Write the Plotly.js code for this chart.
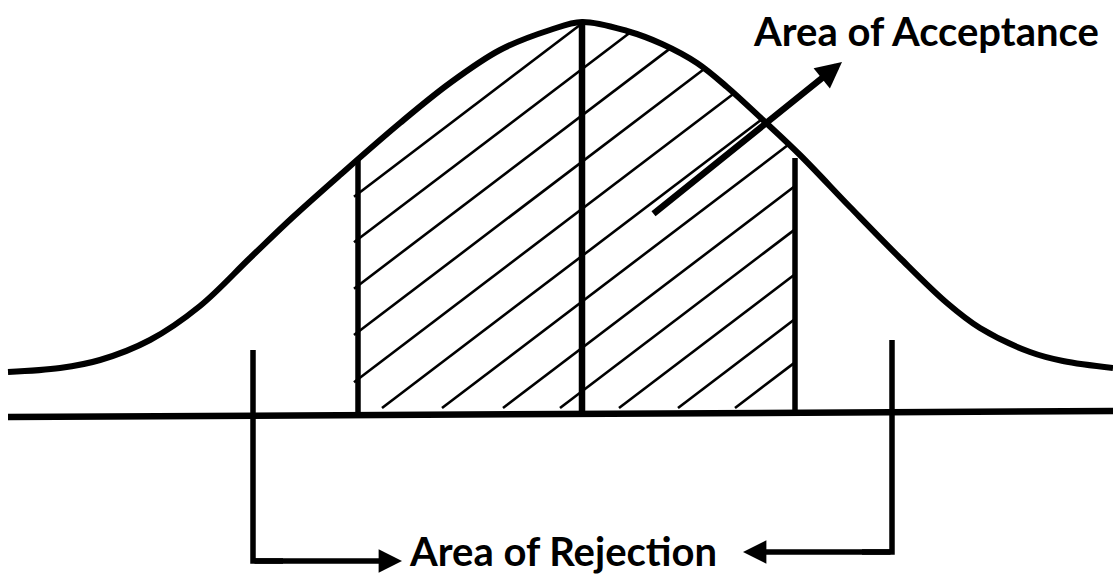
<!DOCTYPE html>
<html>
<head>
<meta charset="utf-8">
<script src="https://cdn.plot.ly/plotly-3.0.1.min.js"></script>
<style>html,body{margin:0;padding:0;background:#fff;}#chart{width:1113px;height:575px;}</style>
</head>
<body>
<div id="chart"></div>
<script>
// Bell curve (pixel-space coordinates)
const curveX = [8, 60, 100, 150, 200, 250, 293, 340, 400, 450, 500, 550, 582, 627, 662, 697, 727, 763, 800, 850, 900, 947, 980, 1030, 1063, 1113];
const curveY = [372, 368, 360, 340, 306, 258, 217, 175, 123, 83, 50, 30, 22, 31, 44, 63, 87, 120, 155, 207, 258, 303, 328, 352, 361, 368];

// Horizontal axis line
const baseX = [8, 1113];
const baseY = [417, 411];

// Vertical lines: acceptance limits and the mean
const acceptLeft = {x: 358, top: 160, bottom: 414};
const meanLine = {x: 582, top: 20, bottom: 412};
const acceptRight = {x: 795, top: 158, bottom: 411};

// Rejection brackets
const rejLeft = {x: 253, top: 350, bottom: 561, tipX: 402};
const rejRight = {x: 892, top: 340, bottom: 552, tipX: 743};

// Hatching: x where each hatch line meets the bottom (y = 408), and its rise per px
const hatchBaseX = [76, 136, 197, 258, 320, 382, 442, 503, 560, 619, 678, 735];
const hatchBottomY = 408;
const hatchSlope = 0.76;
const hatchLeftX = 354;
const hatchRightX = 795;

// Acceptance arrow
const accArrow = {x0: 652, y0: 215, x1: 842, y1: 62};

// Labels
const labelAccept = {text: 'Area of Acceptance', x: 926, y: 31};
const labelReject = {text: 'Area of Rejection', x: 563, y: 551};

function curveAt(x) {
  for (let i = 0; i < curveX.length - 1; i++) {
    if (x >= curveX[i] && x <= curveX[i + 1]) {
      const t = (x - curveX[i]) / (curveX[i + 1] - curveX[i]);
      return curveY[i] + t * (curveY[i + 1] - curveY[i]);
    }
  }
  return curveY[curveY.length - 1];
}

const traces = [];
const blk = '#000';

traces.push({x: baseX, y: baseY, mode: 'lines', line: {color: blk, width: 6.5}, hoverinfo: 'skip'});
traces.push({x: curveX, y: curveY, mode: 'lines', line: {color: blk, width: 6, shape: 'spline', smoothing: 1}, hoverinfo: 'skip'});

// hatch lines
hatchBaseX.forEach(function (x0) {
  const lineY = function (x) { return hatchBottomY - hatchSlope * (x - x0); };
  let xs = Math.max(x0, hatchLeftX);
  let ys = lineY(xs);
  let xe = xs;
  for (let x = xs; x <= hatchRightX; x += 0.25) {
    if (lineY(x) < curveAt(x) + 1) break;
    xe = x;
  }
  traces.push({x: [xs, xe], y: [ys, lineY(xe)], mode: 'lines', line: {color: blk, width: 2.6}, hoverinfo: 'skip'});
});

[acceptLeft, meanLine, acceptRight].forEach(function (v, i) {
  traces.push({x: [v.x, v.x], y: [v.top, v.bottom], mode: 'lines', line: {color: blk, width: i === 1 ? 6.5 : 5.5}, hoverinfo: 'skip'});
});

traces.push({x: [rejLeft.x, rejLeft.x, rejLeft.x + 30], y: [rejLeft.top, rejLeft.bottom, rejLeft.bottom], mode: 'lines', line: {color: blk, width: 5.5}, hoverinfo: 'skip'});
traces.push({x: [rejRight.x, rejRight.x, rejRight.x - 30], y: [rejRight.top, rejRight.bottom, rejRight.bottom], mode: 'lines', line: {color: blk, width: 5.5}, hoverinfo: 'skip'});

const fontFam = 'Lato, "Open Sans", sans-serif';
const annotations = [
  {x: rejLeft.tipX, y: rejLeft.bottom, ax: rejLeft.x, ay: rejLeft.bottom, axref: 'x', ayref: 'y', xref: 'x', yref: 'y',
   text: '', showarrow: true, arrowhead: 2, arrowsize: 0.85, arrowwidth: 5.5, arrowcolor: blk},
  {x: rejRight.tipX, y: rejRight.bottom, ax: rejRight.x, ay: rejRight.bottom, axref: 'x', ayref: 'y', xref: 'x', yref: 'y',
   text: '', showarrow: true, arrowhead: 2, arrowsize: 0.85, arrowwidth: 5.5, arrowcolor: blk},
  {x: accArrow.x1, y: accArrow.y1, ax: accArrow.x0, ay: accArrow.y0, axref: 'x', ayref: 'y', xref: 'x', yref: 'y',
   text: '', showarrow: true, arrowhead: 2, arrowsize: 0.8, arrowwidth: 6.5, arrowcolor: blk},
  {x: labelAccept.x, y: labelAccept.y, xref: 'x', yref: 'y', text: '<b>' + labelAccept.text + '</b>', showarrow: false,
   xanchor: 'center', yanchor: 'middle', font: {family: fontFam, size: 40, color: blk}},
  {x: labelReject.x, y: labelReject.y, xref: 'x', yref: 'y', text: '<b>' + labelReject.text + '</b>', showarrow: false,
   xanchor: 'center', yanchor: 'middle', font: {family: fontFam, size: 40, color: blk}}
];

const layout = {
  width: 1113, height: 575,
  margin: {l: 0, r: 0, t: 0, b: 0, pad: 0},
  paper_bgcolor: '#fff', plot_bgcolor: '#fff',
  showlegend: false,
  xaxis: {range: [0, 1113], visible: false, fixedrange: true},
  yaxis: {range: [575, 0], visible: false, fixedrange: true},
  annotations: annotations
};

Plotly.newPlot('chart', traces, layout, {displayModeBar: false, staticPlot: true});
</script>
</body>
</html>
